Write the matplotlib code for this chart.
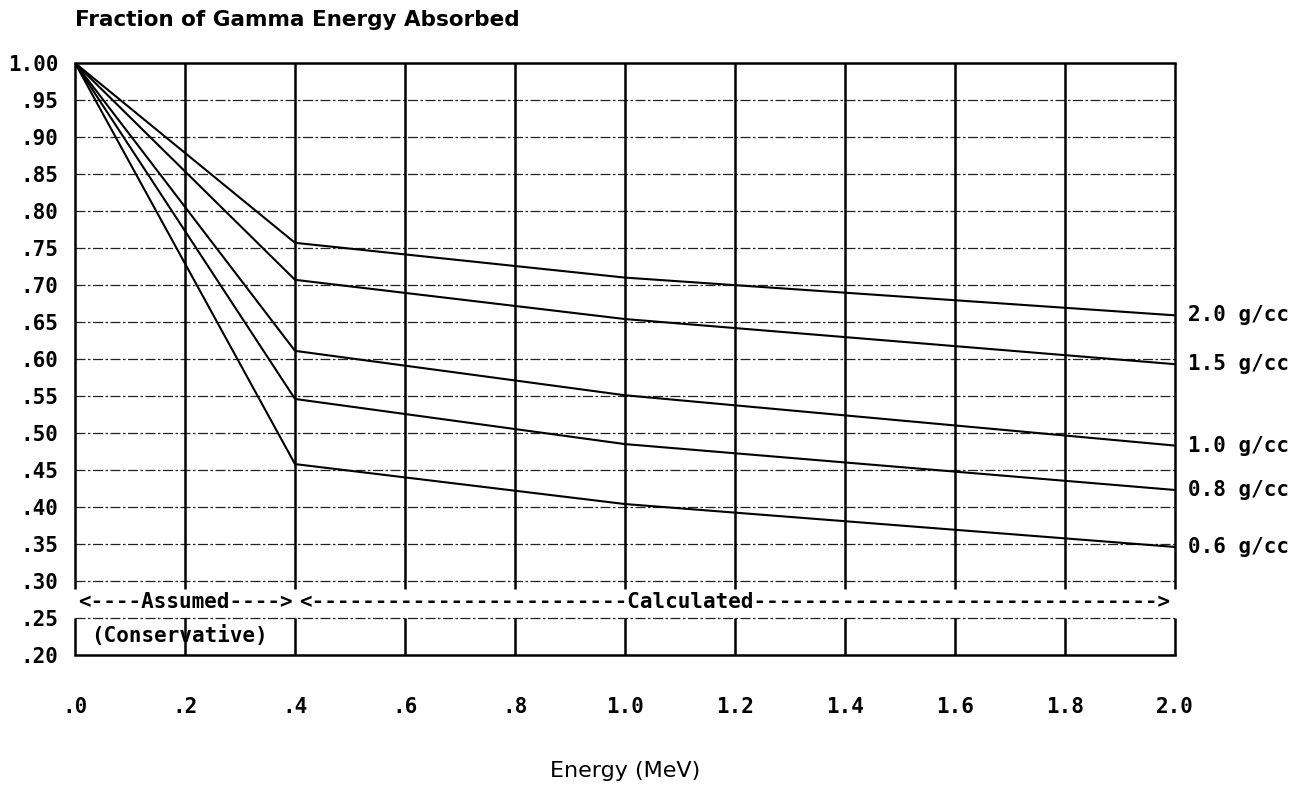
import matplotlib
matplotlib.use("Agg")
import matplotlib.pyplot as plt
import numpy as np

# ---- data ----
energy = [0.0, 0.4, 1.0, 2.0]
densities = ["2.0 g/cc", "1.5 g/cc", "1.0 g/cc", "0.8 g/cc", "0.6 g/cc"]
frac_2_0 = [1.0, 0.757, 0.710, 0.659]
frac_1_5 = [1.0, 0.707, 0.654, 0.593]
frac_1_0 = [1.0, 0.611, 0.551, 0.483]
frac_0_8 = [1.0, 0.546, 0.485, 0.423]
frac_0_6 = [1.0, 0.458, 0.404, 0.346]
series = [frac_2_0, frac_1_5, frac_1_0, frac_0_8, frac_0_6]

xticks = [0.0, 0.2, 0.4, 0.6, 0.8, 1.0, 1.2, 1.4, 1.6, 1.8, 2.0]
xticklabels = [".0", ".2", ".4", ".6", ".8", "1.0", "1.2", "1.4", "1.6", "1.8", "2.0"]
yticks = [1.00, 0.95, 0.90, 0.85, 0.80, 0.75, 0.70, 0.65, 0.60, 0.55, 0.50,
          0.45, 0.40, 0.35, 0.30, 0.25, 0.20]
yticklabels = ["1.00", ".95", ".90", ".85", ".80", ".75", ".70", ".65", ".60",
               ".55", ".50", ".45", ".40", ".35", ".30", ".25", ".20"]

fig = plt.figure(figsize=(12.98, 7.85), dpi=100)
ax = fig.add_axes([75/1298, 130/785, 1100/1298, 592/785])
ax.set_xlim(0, 2.0)
ax.set_ylim(0.20, 1.00)

mono = "DejaVu Sans Mono"

# horizontal dash-dot grid
for y in yticks:
    if 0.20 < y < 1.00:
        ax.plot([0, 2.0], [y, y], color="#222222", lw=0.9,
                linestyle=(0, (8, 2, 2, 2)), zorder=1)

# vertical grid lines (broken at the annotation band)
gap_lo, gap_hi = 0.25, 0.289
for x in xticks:
    lw = 1.8
    ax.plot([x, x], [gap_hi, 1.0], color="black", lw=lw, zorder=2,
            clip_on=False, solid_capstyle="butt")
    ax.plot([x, x], [0.20, gap_lo], color="black", lw=lw, zorder=2,
            clip_on=False, solid_capstyle="butt")

for s in ["left", "right"]:
    ax.spines[s].set_visible(False)
for s in ["top", "bottom"]:
    ax.spines[s].set_linewidth(1.8)

# data lines
for vals, lab in zip(series, densities):
    ax.plot(energy, vals, color="black", lw=1.5, zorder=3)
    ax.annotate(lab, xy=(energy[-1], vals[-1]), xytext=(9, 0),
                textcoords="offset points", va="center", ha="left",
                fontsize=15, fontweight="bold", family=mono)

# annotation band
ax.text(0.2, 0.2715, "<----Assumed---->", ha="center", va="center",
        fontsize=15, fontweight="bold", family=mono, zorder=4)
ax.text(0.19, 0.226, "(Conservative)", ha="center", va="center",
        fontsize=15, fontweight="bold", family=mono, zorder=4)
calc = "<" + "-" * 25 + "Calculated" + "-" * 32 + ">"
ax.text(1.2, 0.2715, calc, ha="center", va="center",
        fontsize=15, fontweight="bold", family=mono, zorder=4)

ax.set_xticks(xticks)
ax.set_xticklabels(xticklabels, fontsize=15, fontweight="bold", family=mono)
ax.set_yticks(yticks)
ax.set_yticklabels(yticklabels, fontsize=15, fontweight="bold", family=mono)
ax.tick_params(axis="x", length=0, pad=30)
ax.tick_params(axis="y", length=0, pad=12)

fig.text(75/1298, 1 - 20/785, "Fraction of Gamma Energy Absorbed",
         ha="left", va="center", fontsize=15.5, fontweight="bold")
fig.text(625/1298, 1 - 771/785, "Energy (MeV)", ha="center", va="center",
         fontsize=16)

fig.savefig("out.png", dpi=100, facecolor="white")
